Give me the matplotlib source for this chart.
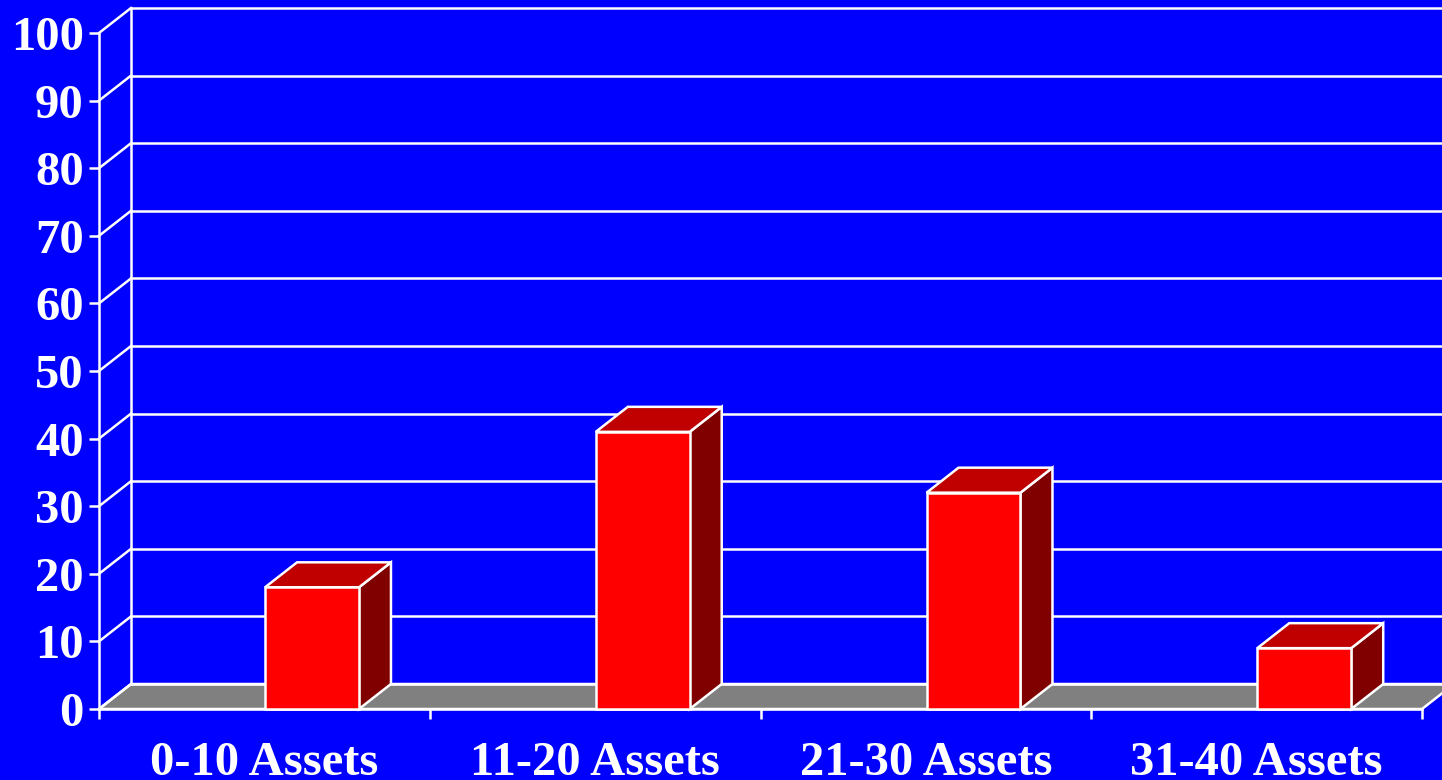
import numpy as np
import matplotlib.pyplot as plt
from matplotlib.patches import Polygon

categories = ['0-10 Assets', '11-20 Assets', '21-30 Assets', '31-40 Assets']
values = [18, 41, 32, 9]
yticks = list(range(0, 101, 10))

W, H = 1442, 780
fig = plt.figure(figsize=(W / 100, H / 100), dpi=100)
fig.patch.set_facecolor('#0000ff')
# axes box = front plane of the chart
ax = fig.add_axes([99 / W, (H - 709) / H, (1422 - 99) / W, (709 - 33) / H])
ax.patch.set_visible(False)
ax.set_xlim(0, 4)
ax.set_ylim(0, 100)

# depth offset of the 3D look, in data units
dx = 32 / ((1422 - 99) / 4)
dy = 25 / ((709 - 33) / 100)

lw = 1.8
white = 'white'

# floor
ax.add_patch(Polygon([(0, 0), (4, 0), (4 + dx, dy), (dx, dy)], closed=True,
                     facecolor='#808080', edgecolor=white, lw=lw, zorder=1, clip_on=False))
# back wall grid + left diagonals
for v in yticks:
    ax.plot([dx, 4 + dx], [v + dy, v + dy], color=white, lw=lw, zorder=1.5, clip_on=False)
    ax.plot([0, dx], [v, v + dy], color=white, lw=lw, zorder=1.5, clip_on=False)
ax.plot([dx, dx], [dy, 100 + dy], color=white, lw=lw, zorder=1.5, clip_on=False)

# bars
x0s = np.arange(len(values)) + 0.502
bw = 0.284
for x0, v in zip(x0s, values):
    x1 = x0 + bw
    ax.add_patch(Polygon([(x1, 0), (x1 + dx, dy), (x1 + dx, v + dy), (x1, v)], closed=True,
                         facecolor='#800000', edgecolor=white, lw=lw, zorder=3, clip_on=False))
    ax.add_patch(Polygon([(x0, v), (x1, v), (x1 + dx, v + dy), (x0 + dx, v + dy)], closed=True,
                         facecolor='#c00000', edgecolor=white, lw=lw, zorder=3, clip_on=False))
    ax.add_patch(plt.Rectangle((x0, 0), bw, v, facecolor='#ff0000', edgecolor=white,
                               lw=lw, zorder=3, clip_on=False))

for s in ['top', 'right']:
    ax.spines[s].set_visible(False)
for s in ['left', 'bottom']:
    ax.spines[s].set_color(white)
    ax.spines[s].set_linewidth(lw)
    ax.spines[s].set_zorder(2)

font = dict(family=['Liberation Serif', 'DejaVu Serif'], weight='bold', size=35, color=white)
ax.set_yticks(yticks)
ax.set_yticklabels([str(t) for t in yticks], fontdict=font)
ax.set_xticks(range(5))
ax.set_xticklabels([''] * 5)
ax.set_xticks(np.arange(4) + 0.5, minor=True)
ax.set_xticklabels(categories, minor=True, fontdict=font)
ax.tick_params(axis='y', colors=white, length=7, width=lw, pad=4)
ax.tick_params(axis='x', which='major', colors=white, length=7, width=lw)
ax.tick_params(axis='x', which='minor', length=0, pad=23)

fig.savefig('out.png', dpi=100, facecolor=fig.get_facecolor())
